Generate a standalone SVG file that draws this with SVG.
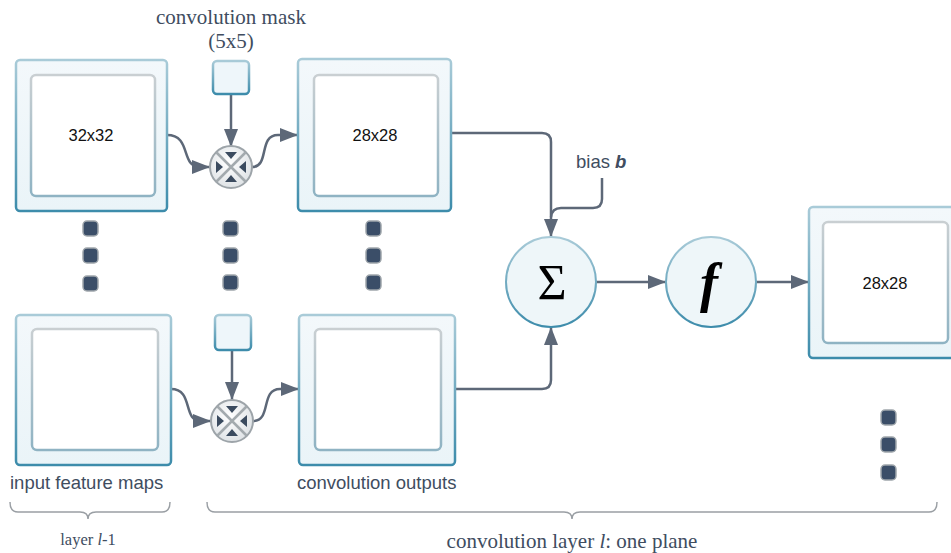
<svg xmlns="http://www.w3.org/2000/svg" width="951" height="553" viewBox="0 0 951 553">
  <defs>
    <linearGradient id="frameStroke" x1="0" y1="0" x2="0" y2="1">
      <stop offset="0" stop-color="#a9cbd8"/>
      <stop offset="1" stop-color="#3d8cab"/>
    </linearGradient>
    <linearGradient id="frameFill" x1="0" y1="0" x2="0" y2="1">
      <stop offset="0" stop-color="#f3f8fb"/>
      <stop offset="1" stop-color="#eaf4f8"/>
    </linearGradient>
    <linearGradient id="innerStroke" x1="0" y1="0" x2="0" y2="1">
      <stop offset="0" stop-color="#c9cfd2"/>
      <stop offset="1" stop-color="#8fb3c3"/>
    </linearGradient>
    <radialGradient id="opFill" cx="0.45" cy="0.4" r="0.6">
      <stop offset="0" stop-color="#ffffff"/>
      <stop offset="1" stop-color="#dfe3e6"/>
    </radialGradient>
    <marker id="arrow" markerUnits="userSpaceOnUse" markerWidth="18" markerHeight="14" refX="18" refY="7" orient="auto">
      <path d="M0,0 L18,7 L0,14 z" fill="#5d6878"/>
    </marker>
  </defs>
  <style>
    .frame { fill: url(#frameFill); stroke: url(#frameStroke); stroke-width: 2.5; }
    .inner { fill: #ffffff; stroke: url(#innerStroke); stroke-width: 2.5; }
    .mask { fill: #eef6fa; stroke: url(#frameStroke); stroke-width: 2.5; }
    .sum { fill: #eef6f9; stroke: url(#frameStroke); stroke-width: 2; }
    .op { fill: url(#opFill); stroke: #9da4a9; stroke-width: 2; }
    .opx { stroke: #a3aaae; stroke-width: 2.5; }
    .tri { fill: #3b4b5f; }
    .dot { fill: #3b4e68; stroke: #a0a7ac; stroke-width: 1.5; }
    .wire { fill: none; stroke: #5d6878; stroke-width: 2.5; }
    .brace { fill: none; stroke: #9a9fa4; stroke-width: 1.5; }
    .size { font-family: "Liberation Sans", Arial, sans-serif; font-size: 16.5px; fill: #111111; text-anchor: middle; }
    .label { font-family: "Liberation Sans", Arial, sans-serif; font-size: 18.5px; fill: #404d5f; }
    .serif { font-family: "Liberation Serif", "Times New Roman", serif; fill: #404d5f; text-anchor: middle; }
    .math { font-family: "Liberation Serif", "Times New Roman", serif; fill: #000000; text-anchor: middle; }
  </style>

  <!-- connectors -->
  <g id="connectors">
    <path class="wire" d="M167,135 C192,135 180,167 200,167 L210,167" marker-end="url(#arrow)"/>
    <path class="wire" d="M231,94 V147" marker-end="url(#arrow)"/>
    <path class="wire" d="M252,167 C270,167 258,135 278,135 L298,135" marker-end="url(#arrow)"/>
    <path class="wire" d="M171,389 C194,389 182,421 201,421 L211,421" marker-end="url(#arrow)"/>
    <path class="wire" d="M232,350 V400" marker-end="url(#arrow)"/>
    <path class="wire" d="M253,421 C272,421 260,389 280,389 L299,389" marker-end="url(#arrow)"/>
    <path class="wire" d="M451,133 H542 Q551,133 551,142 V237" marker-end="url(#arrow)"/>
    <path class="wire" d="M602,178 V199 Q602,208 593,208 H561 Q552,208 551,217"/>
    <path class="wire" d="M455,389 H542 Q551,389 551,380 V327" marker-end="url(#arrow)"/>
    <path class="wire" d="M596,282 H666" marker-end="url(#arrow)"/>
    <path class="wire" d="M756,282 H809" marker-end="url(#arrow)"/>
  </g>

  <!-- input feature maps (layer l-1) -->
  <g id="input-map-1">
    <rect class="frame" x="16" y="60" width="151" height="151" rx="4"/>
    <rect class="inner" x="31" y="75" width="124" height="121" rx="5"/>
    <text class="size" x="91" y="141">32x32</text>
  </g>
  <g id="input-map-n">
    <rect class="frame" x="16" y="315" width="155" height="150" rx="4"/>
    <rect class="inner" x="32" y="329" width="126" height="121" rx="5"/>
  </g>

  <!-- convolution masks -->
  <g id="mask-1">
    <rect class="mask" x="213" y="61" width="36" height="33" rx="4"/>
  </g>
  <g id="mask-n">
    <rect class="mask" x="215" y="315" width="36" height="35" rx="4"/>
  </g>

  <!-- convolution operators -->
  <g id="conv-op-1">
    <circle class="op" cx="231" cy="167" r="21"/>
    <path class="opx" d="M216.5,152.5 L245.5,181.5 M245.5,152.5 L216.5,181.5"/>
    <path class="tri" d="M225,152 H237 L231,159 z M225,182 H237 L231,175 z M216,161 V173 L223,167 z M246,161 V173 L239,167 z"/>
  </g>
  <g id="conv-op-n">
    <circle class="op" cx="232" cy="421" r="21"/>
    <path class="opx" d="M217.5,406.5 L246.5,435.5 M246.5,406.5 L217.5,435.5"/>
    <path class="tri" d="M226,406 H238 L232,413 z M226,436 H238 L232,429 z M217,415 V427 L224,421 z M247,415 V427 L240,421 z"/>
  </g>

  <!-- convolution outputs -->
  <g id="conv-out-1">
    <rect class="frame" x="298" y="59" width="153" height="152" rx="4"/>
    <rect class="inner" x="314" y="75" width="124" height="121" rx="5"/>
    <text class="size" x="375" y="141">28x28</text>
  </g>
  <g id="conv-out-n">
    <rect class="frame" x="299" y="315" width="156" height="150" rx="4"/>
    <rect class="inner" x="315" y="329" width="126" height="121" rx="5"/>
  </g>

  <!-- continuation dots -->
  <g id="dots">
    <rect class="dot" x="83" y="221" width="15" height="15" rx="4"/>
    <rect class="dot" x="83" y="248" width="15" height="15" rx="4"/>
    <rect class="dot" x="83" y="276" width="15" height="15" rx="4"/>
    <rect class="dot" x="223" y="221" width="15" height="15" rx="4"/>
    <rect class="dot" x="223" y="248" width="15" height="15" rx="4"/>
    <rect class="dot" x="223" y="275" width="15" height="15" rx="4"/>
    <rect class="dot" x="366" y="221" width="15" height="15" rx="4"/>
    <rect class="dot" x="366" y="248" width="15" height="15" rx="4"/>
    <rect class="dot" x="366" y="275" width="15" height="15" rx="4"/>
    <rect class="dot" x="881" y="410" width="15" height="15" rx="4"/>
    <rect class="dot" x="881" y="437" width="15" height="15" rx="4"/>
    <rect class="dot" x="881" y="465" width="15" height="15" rx="4"/>
  </g>

  <!-- summation and activation -->
  <g id="sum">
    <circle class="sum" cx="551" cy="282" r="45"/>
    <text class="math" x="552" y="299" font-size="50">Σ</text>
  </g>
  <g id="activation">
    <circle class="sum" cx="711" cy="282" r="45"/>
    <text class="math" x="709" y="301" font-size="54" font-style="italic" font-weight="bold">f</text>
  </g>

  <!-- resulting feature map -->
  <g id="result-map">
    <rect class="frame" x="809" y="207" width="152" height="151" rx="4"/>
    <rect class="inner" x="823" y="222" width="125" height="121" rx="5"/>
    <text class="size" x="885" y="289">28x28</text>
  </g>

  <!-- labels -->
  <g id="labels">
    <text class="serif" x="231" y="24" font-size="21">convolution mask</text>
    <text class="serif" x="231" y="48" font-size="21">(5x5)</text>
    <text class="label" x="576" y="168">bias <tspan font-weight="bold" font-style="italic">b</tspan></text>
    <text class="label" x="10" y="489">input feature maps</text>
    <text class="label" x="297" y="489">convolution outputs</text>
    <text class="serif" x="88" y="545" font-size="16.5">layer <tspan font-style="italic">l</tspan>-1</text>
    <text class="serif" x="572" y="548" font-size="21">convolution layer <tspan font-style="italic">l</tspan>: one plane</text>
  </g>

  <!-- braces -->
  <g id="braces">
    <path class="brace" d="M10,502 Q10,512 18,512 H80 Q88,512 88,519 Q88,512 96,512 H162 Q170,512 170,502"/>
    <path class="brace" d="M207,502 Q207,512 215,512 H564 Q572,512 572,519 Q572,512 580,512 H929 Q937,512 937,502"/>
  </g>
</svg>
